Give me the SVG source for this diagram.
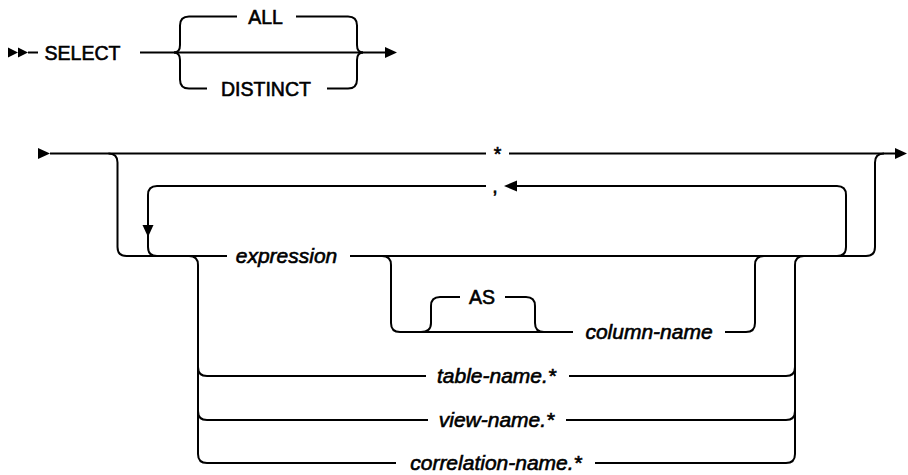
<svg xmlns="http://www.w3.org/2000/svg" width="908" height="475" viewBox="0 0 908 475">
<style>
.c{fill:none;stroke:#000;stroke-width:2;stroke-linecap:butt;stroke-linejoin:round}
.ah{fill:#000;stroke:none}
.t{font-family:"Liberation Sans",Arial,sans-serif;font-size:19.5px;fill:#000;stroke:#000;stroke-width:0.6px;text-anchor:middle}
.i{font-style:italic;font-size:21px}
</style>
<rect width="908" height="475" fill="#fff"/>
<g id="connectors">
  <!-- top statement -->
  <polygon class="ah" points="8,47.5 18,52.5 8,57.5"/>
  <polygon class="ah" points="18,47.5 28,52.5 18,57.5"/>
  <path class="c" d="M28,52.5 H38"/>
  <path class="c" d="M140,52.5 H385"/>
  <polygon class="ah" points="385,47 397,52.5 385,58"/>
  <path class="c" d="M174,52.5 Q180,52.5 180,45 V25.5 Q180,16.5 189,16.5 H237"/>
  <path class="c" d="M174,52.5 Q180,52.5 180,60 V79.5 Q180,88.5 189,88.5 H207"/>
  <path class="c" d="M296,16.5 H348 Q357,16.5 357,25.5 V45 Q357,52.5 363,52.5"/>
  <path class="c" d="M327,88.5 H348 Q357,88.5 357,79.5 V60 Q357,52.5 363,52.5"/>
  <!-- select list -->
  <polygon class="ah" points="38,148 50,153.5 38,159"/>
  <path class="c" d="M50,153.5 H486"/>
  <path class="c" d="M509,153.5 H895"/>
  <polygon class="ah" points="895,148 907,153.5 895,159"/>
  <path class="c" d="M108.5,153.5 Q117.5,153.5 117.5,162.5 V247 Q117.5,256 126.5,256 H227"/>
  <path class="c" d="M350,256 H866 Q875,256 875,247 V162.5 Q875,153.5 884,153.5"/>
  <!-- repeat loop -->
  <path class="c" d="M837,256 Q846,256 846,247 V195 Q846,186 837,186 H517"/>
  <polygon class="ah" points="517,180.5 517,191.5 504,186"/>
  <path class="c" d="M486,186 H157 Q148,186 148,195 V247 Q148,256 157,256"/>
  <polygon class="ah" points="142.5,225 153.5,225 148,237"/>
  <!-- alternatives -->
  <path class="c" d="M189,256 Q198,256 198,265 V454 Q198,463 207,463 H396"/>
  <path class="c" d="M198,367 Q198,376 207,376 H426"/>
  <path class="c" d="M198,411 Q198,420 207,420 H428"/>
  <path class="c" d="M569,376 H786 Q795,376 795,367"/>
  <path class="c" d="M566,420 H786 Q795,420 795,411"/>
  <path class="c" d="M595,463 H786 Q795,463 795,454 V265 Q795,256 804,256"/>
  <!-- optional AS column-name -->
  <path class="c" d="M382,256 Q391,256 391,265 V323 Q391,332 400,332 H573"/>
  <path class="c" d="M725,332 H746 Q755,332 755,323 V265 Q755,256 764,256"/>
  <path class="c" d="M421,332 Q431,332 431,323 V306 Q431,297 440,297 H460"/>
  <path class="c" d="M505,297 H526 Q535,297 535,306 V323 Q535,332 544,332"/>
</g>
<g id="select"><text class="t" x="82.5" y="59.5">SELECT</text></g>
<g id="all"><text class="t" x="265.5" y="23.5">ALL</text></g>
<g id="distinct"><text class="t" x="266" y="95.5">DISTINCT</text></g>
<g id="star"><text class="t" x="497.5" y="161">*</text></g>
<g id="comma"><text class="t" x="495" y="193">,</text></g>
<g id="expression"><text class="t i" x="286.5" y="263">expression</text></g>
<g id="as"><text class="t" x="482" y="304">AS</text></g>
<g id="column-name"><text class="t i" x="649" y="339">column-name</text></g>
<g id="table-name"><text class="t i" x="496.5" y="383">table-name.*</text></g>
<g id="view-name"><text class="t i" x="496.5" y="427">view-name.*</text></g>
<g id="correlation-name"><text class="t i" x="496" y="470">correlation-name.*</text></g>
</svg>
